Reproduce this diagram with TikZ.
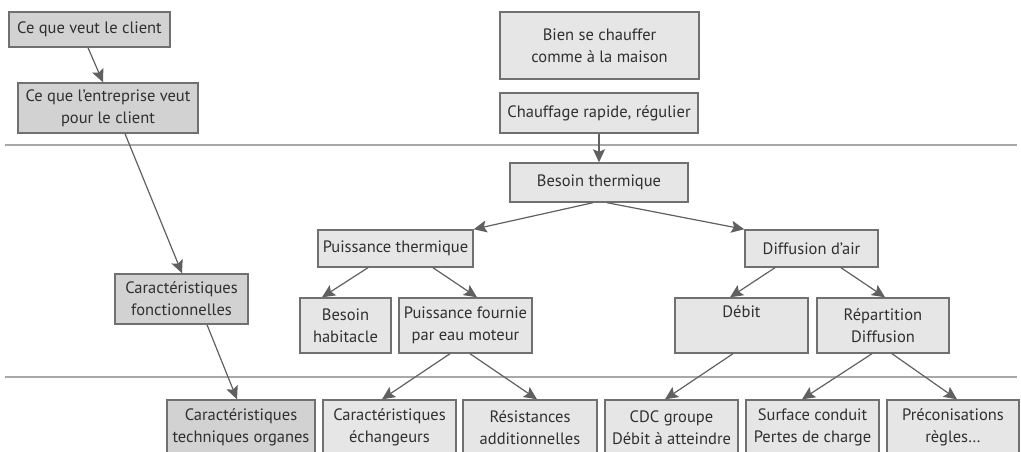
\documentclass[tikz,border=0pt]{standalone}
\usepackage{fontspec}
\setmainfont{PT Sans}
\usetikzlibrary{arrows.meta}
\definecolor{boxline}{HTML}{707070}
\definecolor{boxfill}{HTML}{E6E6E6}
\definecolor{boxdark}{HTML}{D2D2D2}
\definecolor{arrowcol}{HTML}{606060}
\definecolor{rulecol}{HTML}{A8A8A8}
\definecolor{textcol}{HTML}{303030}
\tikzset{
  box/.style={draw=boxline, line width=1.4pt, fill=boxfill, inner sep=0pt,
    align=center, text=textcol, font=\fontsize{16.5}{22}\selectfont},
  darkbox/.style={box, fill=boxdark},
  size/.style args={#1x#2}{minimum width=#1pt, minimum height=#2pt},
  link/.style={draw=arrowcol, line width=1.2pt,
    -{Stealth[length=13pt,width=12pt,inset=2.5pt]}},
  sep/.style={draw=rulecol, line width=2pt}
}
\begin{document}
\begin{tikzpicture}[x=1pt,y=-1pt]
\useasboundingbox (0,0) rectangle (1021,452);
\clip (0,0) rectangle (1021,452);

% separators between the three levels
\draw[sep] (5,145) -- (1017,145);
\draw[sep] (5,377) -- (1017,377);

% left column
\node[darkbox, size=161x35] (cvc) at (89.5,29.5) {Ce que veut le client};
\node[darkbox, size=180x50] (cev) at (108,108) {Ce que l'entreprise veut\\pour le client};
\node[darkbox, size=133x50] (cf) at (181.5,299) {Caractéristiques\\fonctionnelles};
\node[darkbox, size=148x55] (cto) at (241,427.5) {Caractéristiques\\techniques organes};

% top of the tree
\node[box, size=199x67] (bsc) at (599.5,45.5) {Bien se chauffer\\comme à la maison};
\node[box, size=198x40] (cr) at (599,113) {Chauffage rapide, régulier};
\node[box, size=178x39] (bt) at (599,182.5) {Besoin thermique};
\node[box, size=155x37] (pt) at (395.5,248.5) {Puissance thermique};
\node[box, size=133x37] (da) at (811.5,248.5) {Diffusion d'air};

% middle level
\node[box, size=91x55] (bh) at (345.5,325.5) {Besoin\\habitacle};
\node[box, size=133x55] (pf) at (465.5,325.5) {Puissance fournie\\par eau moteur};
\node[box, size=133x55] (deb) at (741.5,325.5) {Débit\\\strut};
\node[box, size=132x55] (rep) at (883,325.5) {Répartition\\Diffusion};

% bottom level
\node[box, size=133x55] (ce) at (389.5,427.5) {Caractéristiques\\échangeurs};
\node[box, size=134x55] (ra) at (530,427.5) {Résistances\\additionnelles};
\node[box, size=133x55] (cdc) at (671.5,427.5) {CDC groupe\\Débit à atteindre};
\node[box, size=133x55] (sc) at (812.5,427.5) {Surface conduit\\Pertes de charge};
\node[box, size=132x55] (pre) at (953,427.5) {Préconisations\\règles…};

% connectors
\draw[link] ([xshift=-1.5pt]cvc.south) -- ([xshift=-5pt]cev.north);
\draw[link] ([xshift=17pt]cev.south) -- ([xshift=0.5pt]cf.north);
\draw[link] ([xshift=25.5pt]cf.south) -- ([xshift=-4pt]cto.north);
\draw[link] (cr.south) -- (bt.north);
\draw[link] ([xshift=-6pt]bt.south) -- (pt.north east);
\draw[link] ([xshift=8pt]bt.south) -- (da.north west);
\draw[link] ([xshift=-27.5pt]pt.south) -- ([xshift=-23.5pt]bh.north);
\draw[link] ([xshift=37.5pt]pt.south) -- ([xshift=11.5pt]pf.north);
\draw[link] ([xshift=-36.5pt]da.south) -- ([xshift=-11.5pt]deb.north);
\draw[link] ([xshift=29.5pt]da.south) -- ([xshift=2pt]rep.north);
\draw[link] ([xshift=-15.5pt]pf.south) -- ([xshift=-7.5pt]ce.north);
\draw[link] ([xshift=4.5pt]pf.south) -- ([xshift=7pt]ra.north);
\draw[link] ([xshift=-8.5pt]deb.south) -- ([xshift=-6.5pt]cdc.north);
\draw[link] ([xshift=-11pt]rep.south) -- ([xshift=-10.5pt]sc.north);
\draw[link] ([xshift=9pt]rep.south) -- ([xshift=4pt]pre.north);
\end{tikzpicture}
\end{document}
